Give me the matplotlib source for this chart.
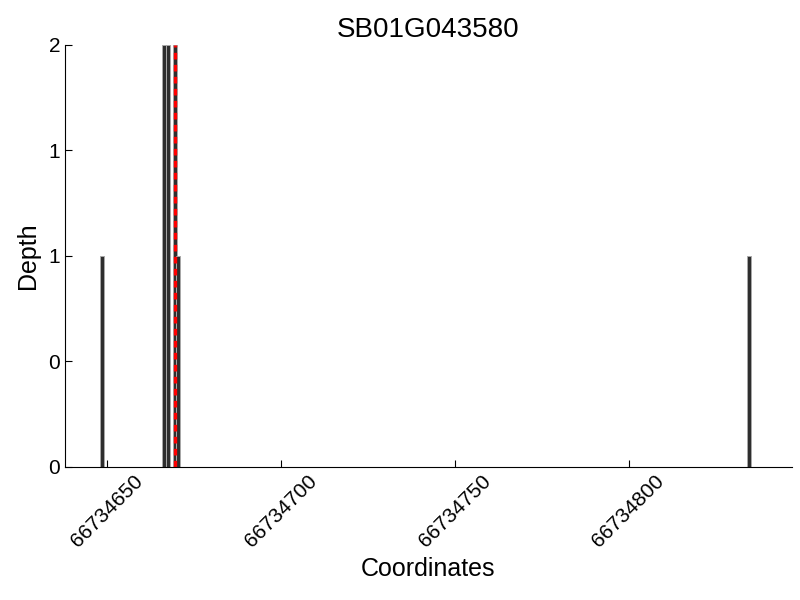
import numpy as np
import matplotlib
matplotlib.use("Agg")
import matplotlib.pyplot as plt
from matplotlib.ticker import FormatStrFormatter

plt.rcParams['font.family'] = ['Liberation Sans', 'DejaVu Sans']

gene = "SB01G043580"
positions = [66734648, 66734666, 66734667, 66734669, 66734670, 66734834]
depth = [1, 2, 2, 2, 1, 1]
marker_pos = 66734669.5
x_range = (66734638, 66734847)
xticks = [66734650, 66734700, 66734750, 66734800]

fig = plt.figure(figsize=(8, 6), dpi=100)
ax = fig.add_axes([0.08125, 0.2217, 0.90875, 0.7033])

ax.bar(positions, depth, width=1.1, align='edge', color='#2e2e2e',
       edgecolor='#a8a8a8', linewidth=0.7)
ax.axvline(marker_pos, color='red', linestyle=(0, (2, 1.6)), linewidth=2.4)

ax.set_xlim(*x_range)
ax.set_ylim(0, 2)
ax.set_xticks(xticks)
ax.set_xticklabels([str(t) for t in xticks], rotation=45, ha='center', fontsize=15)
ax.set_yticks(np.arange(0, 2.01, 0.5))
ax.yaxis.set_major_formatter(FormatStrFormatter('%d'))
ax.tick_params(axis='y', labelsize=15, direction='in', length=5)
ax.tick_params(axis='x', direction='in', length=5)

for s in ['top', 'right']:
    ax.spines[s].set_visible(False)

ax.set_xlabel('Coordinates', fontsize=18)
ax.set_ylabel('Depth', fontsize=18, labelpad=6)
ax.set_title(gene, fontsize=20)

fig.savefig('out.png', dpi=100)
